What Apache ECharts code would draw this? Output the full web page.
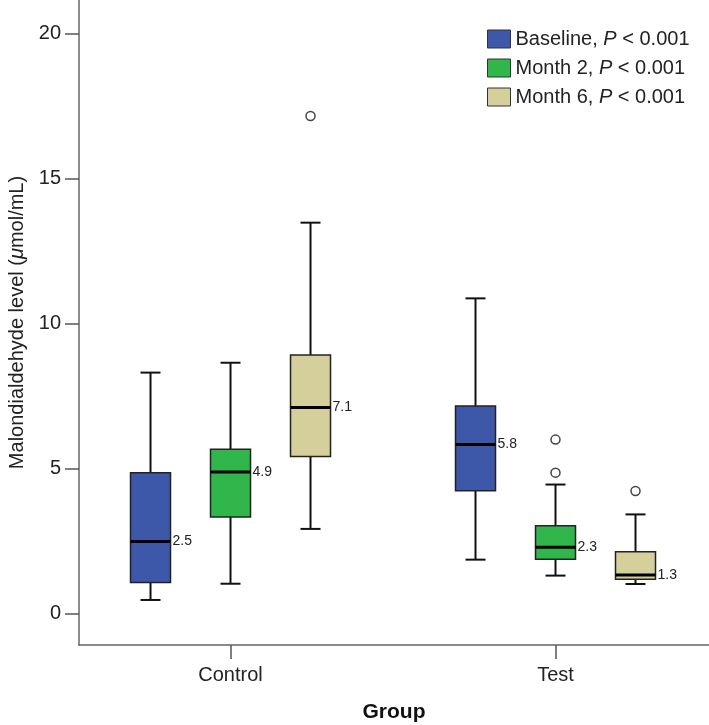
<!DOCTYPE html>
<html>
<head>
<meta charset="utf-8">
<script src="https://cdn.jsdelivr.net/npm/echarts@6/dist/echarts.min.js"></script>
<style>
html,body{margin:0;padding:0;background:#fff;}
#chart{width:709px;height:725px;}
</style>
</head>
<body>
<div id="chart"></div>
<script>
// ---- data ----
const groups = ['Control', 'Test'];
const timepoints = ['Baseline', 'Month 2', 'Month 6'];
const pValues = ['< 0.001', '< 0.001', '< 0.001'];
const yTicks = [0, 5, 10, 15, 20];
// [min, Q1, median, Q3, max] per group (Control, Test)
const baselineStats = [[0.46, 1.06, 2.48, 4.85, 8.30], [1.85, 4.23, 5.82, 7.15, 10.86]];
const month2Stats   = [[1.02, 3.32, 4.87, 5.66, 8.64], [1.30, 1.86, 2.28, 3.02, 4.44]];
const month6Stats   = [[2.91, 5.41, 7.10, 8.91, 13.47], [1.01, 1.17, 1.32, 2.12, 3.41]];
// outliers per group (Control, Test)
const baselineOutliers = [[], []];
const month2Outliers   = [[], [4.85, 5.99]];
const month6Outliers   = [[17.15], [4.22]];

const statsByTime = [baselineStats, month2Stats, month6Stats];
const outliersByTime = [baselineOutliers, month2Outliers, month6Outliers];
const colors = ['#3d58a9', '#30b64a', '#d4cf9b'];

const FONT = "'Liberation Sans', Arial, sans-serif";
const BOX_W = 40, CAP_W = 20, BOX_SPACING = 80;

const chart = echarts.init(document.getElementById('chart'), null, {renderer: 'canvas'});

function boxRenderer(t) {
  return function (params, api) {
    const g = api.value(0);
    const dx = (t - 1) * BOX_SPACING;
    const x = api.coord([g, 0])[0] + dx;
    const yMin = api.coord([g, api.value(1)])[1];
    const yQ1 = api.coord([g, api.value(2)])[1];
    const med = api.value(3);
    const yMed = api.coord([g, med])[1];
    const yQ3 = api.coord([g, api.value(4)])[1];
    const yMax = api.coord([g, api.value(5)])[1];
    const hw = BOX_W / 2, cw = CAP_W / 2;
    const ls = {stroke: '#111', lineWidth: 2};
    return {
      type: 'group',
      children: [
        {type: 'line', shape: {x1: x, y1: yMax, x2: x, y2: yQ3}, style: ls},
        {type: 'line', shape: {x1: x, y1: yQ1, x2: x, y2: yMin}, style: ls},
        {type: 'line', shape: {x1: x - cw, y1: yMax, x2: x + cw, y2: yMax}, style: ls},
        {type: 'line', shape: {x1: x - cw, y1: yMin, x2: x + cw, y2: yMin}, style: ls},
        {type: 'rect', shape: {x: x - hw, y: yQ3, width: BOX_W, height: yQ1 - yQ3},
          style: {fill: api.visual('color'), stroke: '#222', lineWidth: 1.5}},
        {type: 'line', shape: {x1: x - hw, y1: yMed, x2: x + hw, y2: yMed}, style: {stroke: '#000', lineWidth: 3}},
        {type: 'text', style: {text: med.toFixed(1), x: x + hw + 2, y: yMed, align: 'left', verticalAlign: 'middle',
          fontSize: 14, fontFamily: FONT, fill: '#222'}}
      ]
    };
  };
}

function outlierRenderer(t) {
  return function (params, api) {
    const p = api.coord([api.value(0), api.value(1)]);
    return {type: 'circle', shape: {cx: p[0] + (t - 1) * BOX_SPACING, cy: p[1], r: 4.5},
      style: {fill: '#fff', stroke: '#444', lineWidth: 1.5}};
  };
}

const series = [];
timepoints.forEach(function (name, t) {
  series.push({
    name: name,
    type: 'custom',
    renderItem: boxRenderer(t),
    itemStyle: {color: colors[t]},
    encode: {x: 0, y: [1, 2, 3, 4, 5]},
    data: statsByTime[t].map(function (s, g) { return [g].concat(s); }),
    z: 2
  });
});
timepoints.forEach(function (name, t) {
  const pts = [];
  outliersByTime[t].forEach(function (list, g) { list.forEach(function (v) { pts.push([g, v]); }); });
  series.push({
    name: name + ' outliers',
    type: 'custom',
    renderItem: outlierRenderer(t),
    encode: {x: 0, y: 1},
    data: pts,
    z: 3
  });
});

const option = {
  animation: false,
  backgroundColor: '#fff',
  textStyle: {fontFamily: FONT},
  grid: {left: 79, right: 0, top: 0, bottom: 80, containLabel: false, outerBoundsMode: 'none'},
  legend: {
    data: timepoints.map(function (n) { return {name: n, icon: 'rect'}; }),
    orient: 'vertical',
    left: 487, top: 29, padding: 0,
    itemWidth: 23, itemHeight: 18, itemGap: 9,
    itemStyle: {borderColor: '#333', borderWidth: 1},
    formatter: function (name) {
      const i = timepoints.indexOf(name);
      return name + ', {i|P} ' + pValues[i];
    },
    textStyle: {fontSize: 20, color: '#222', fontFamily: FONT, lineHeight: 20,
      rich: {i: {fontStyle: 'italic', fontSize: 20, fontFamily: FONT, color: '#222', lineHeight: 20}}}
  },
  xAxis: {
    type: 'value',
    min: -0.4662, max: 1.4723,
    name: 'Group', nameLocation: 'middle', nameGap: 57,
    nameTextStyle: {fontSize: 21, fontWeight: 'bold', color: '#111', fontFamily: FONT},
    axisLine: {show: true, onZero: false, lineStyle: {color: '#666', width: 1.5}},
    axisTick: {show: true, customValues: [0, 1], length: 14, lineStyle: {color: '#555', width: 1.5}},
    axisLabel: {customValues: [0, 1], formatter: function (v) { return groups[Math.round(v)]; },
      fontSize: 20, color: '#222', margin: 20, fontFamily: FONT},
    splitLine: {show: false}
  },
  yAxis: {
    type: 'value',
    min: -1.093, max: 21.148,
    name: 'Malondialdehyde level ({i|μ}mol/mL)', nameLocation: 'middle', nameGap: 52, nameRotate: 90,
    nameTextStyle: {fontSize: 20, color: '#222', fontFamily: FONT,
      rich: {i: {fontStyle: 'italic', fontSize: 20, color: '#222', fontFamily: FONT}}},
    axisLine: {show: true, onZero: false, lineStyle: {color: '#666', width: 1.5}},
    axisTick: {show: true, customValues: yTicks, length: 14, lineStyle: {color: '#555', width: 1.5}},
    axisLabel: {customValues: yTicks, fontSize: 20, color: '#222', margin: 18, fontFamily: FONT},
    splitLine: {show: false}
  },
  series: series
};
chart.setOption(option);
</script>
</body>
</html>
